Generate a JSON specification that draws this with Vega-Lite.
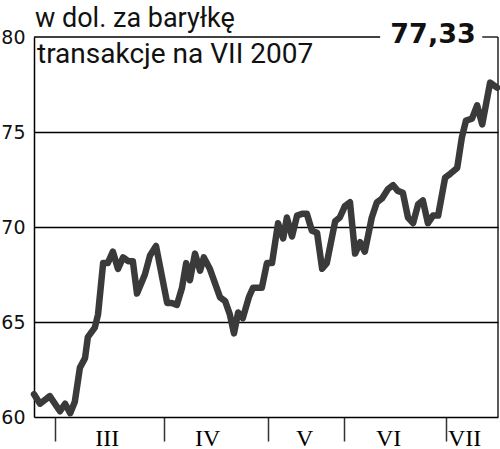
{
  "$schema": "https://vega.github.io/schema/vega-lite/v6.json",
  "width": 464,
  "height": 380,
  "autosize": {"type": "none"},
  "padding": {"left": 34, "top": 37, "right": 2, "bottom": 32},
  "background": "white",
  "config": {"view": {"stroke": null}, "font": "Roboto"},
  "layer": [
    {
      "data": {"values": [
        {"x1": 0, "x2": 74.6, "y1": 80, "y2": 80},
        {"x1": 96.6, "x2": 100, "y1": 80, "y2": 80},
        {"x1": 100, "x2": 100, "y1": 60, "y2": 80}
      ]},
      "mark": {"type": "rule", "color": "#000", "strokeWidth": 1.3},
      "encoding": {
        "x": {"field": "x1", "type": "quantitative"},
        "x2": {"field": "x2"},
        "y": {"field": "y1", "type": "quantitative"},
        "y2": {"field": "y2"}
      }
    },
    {
      "data": {"values": [
        {"t": 0, "cena": 61.2}, {"t": 1.3, "cena": 60.7}, {"t": 3.4, "cena": 61.1}, {"t": 5.6, "cena": 60.3},
        {"t": 6.7, "cena": 60.7}, {"t": 7.8, "cena": 60.2}, {"t": 8.8, "cena": 60.8}, {"t": 9.9, "cena": 62.6},
        {"t": 11.0, "cena": 63.1}, {"t": 11.6, "cena": 64.2}, {"t": 13.1, "cena": 64.7}, {"t": 13.8, "cena": 65.4},
        {"t": 14.9, "cena": 68.1}, {"t": 15.9, "cena": 68.1}, {"t": 17.0, "cena": 68.7}, {"t": 18.1, "cena": 67.8},
        {"t": 19.2, "cena": 68.4}, {"t": 20.3, "cena": 68.2}, {"t": 21.3, "cena": 68.2}, {"t": 22.2, "cena": 66.5},
        {"t": 23.9, "cena": 67.5}, {"t": 25.0, "cena": 68.5}, {"t": 26.3, "cena": 69.0}, {"t": 28.7, "cena": 66.0},
        {"t": 29.7, "cena": 66.0}, {"t": 30.8, "cena": 65.9}, {"t": 31.9, "cena": 66.8}, {"t": 32.8, "cena": 68.1},
        {"t": 33.6, "cena": 67.2}, {"t": 34.7, "cena": 68.6}, {"t": 35.8, "cena": 67.7}, {"t": 36.6, "cena": 68.4},
        {"t": 37.9, "cena": 67.8}, {"t": 40.1, "cena": 66.3}, {"t": 41.2, "cena": 66.1}, {"t": 42.2, "cena": 65.4},
        {"t": 43.1, "cena": 64.4}, {"t": 44.0, "cena": 65.5}, {"t": 45.0, "cena": 65.2}, {"t": 46.3, "cena": 66.3},
        {"t": 47.2, "cena": 66.8}, {"t": 49.1, "cena": 66.8}, {"t": 50.2, "cena": 68.1}, {"t": 51.3, "cena": 68.1},
        {"t": 52.6, "cena": 70.2}, {"t": 53.7, "cena": 69.4}, {"t": 54.5, "cena": 70.5}, {"t": 55.6, "cena": 69.5},
        {"t": 56.7, "cena": 70.6}, {"t": 57.8, "cena": 70.7}, {"t": 58.8, "cena": 70.7}, {"t": 59.9, "cena": 69.8},
        {"t": 61.0, "cena": 69.7}, {"t": 62.1, "cena": 67.8}, {"t": 63.1, "cena": 68.1}, {"t": 64.9, "cena": 70.3},
        {"t": 65.9, "cena": 70.5}, {"t": 67.0, "cena": 71.1}, {"t": 68.1, "cena": 71.3}, {"t": 69.2, "cena": 68.6},
        {"t": 70.3, "cena": 69.2}, {"t": 71.3, "cena": 68.7}, {"t": 72.8, "cena": 70.5}, {"t": 73.9, "cena": 71.3},
        {"t": 75.0, "cena": 71.5}, {"t": 76.3, "cena": 72.0}, {"t": 77.4, "cena": 72.2}, {"t": 78.4, "cena": 71.9},
        {"t": 79.5, "cena": 71.8}, {"t": 80.6, "cena": 70.5}, {"t": 81.7, "cena": 70.2}, {"t": 82.8, "cena": 71.2},
        {"t": 83.8, "cena": 71.4}, {"t": 84.9, "cena": 70.2}, {"t": 86.0, "cena": 70.6}, {"t": 87.1, "cena": 70.6},
        {"t": 88.6, "cena": 72.6}, {"t": 89.7, "cena": 72.8}, {"t": 91.2, "cena": 73.1}, {"t": 92.2, "cena": 74.7},
        {"t": 93.1, "cena": 75.6}, {"t": 94.4, "cena": 75.7}, {"t": 95.5, "cena": 76.4}, {"t": 96.6, "cena": 75.4},
        {"t": 98.3, "cena": 77.6}, {"t": 99.8, "cena": 77.33}
      ]},
      "mark": {"type": "line", "color": "#3a3a3a", "strokeWidth": 6.5, "strokeJoin": "round", "strokeCap": "round"},
      "encoding": {
        "x": {
          "field": "t", "type": "quantitative",
          "scale": {"domain": [0, 100], "nice": false, "zero": false},
          "axis": {
            "title": null, "grid": false,
            "values": [4.5, 15.7, 28, 37.3, 50.4, 58.2, 66.8, 76.3, 88.8, 92.7],
            "labelExpr": "datum.value==15.7?'III':datum.value==37.3?'IV':datum.value==58.2?'V':datum.value==76.3?'VI':datum.value==92.7?'VII':''",
            "tickOpacity": {"condition": {"test": "indexof([4.5,28,50.4,66.8,88.8], datum.value) >= 0", "value": 1}, "value": 0},
            "tickSize": 24, "tickWidth": 1.5, "tickColor": "#333",
            "domainColor": "#000", "domainWidth": 1.5,
            "labelFont": "Liberation Serif", "labelFontSize": 24, "labelColor": "#000",
            "labelPadding": -15, "labelBaseline": "top", "labelAlign": "center",
            "labelOverlap": false, "labelBound": false, "labelFlush": false
          }
        },
        "y": {
          "field": "cena", "type": "quantitative",
          "scale": {"domain": [60, 80], "nice": false, "zero": false},
          "axis": {
            "title": null, "values": [60, 65, 70, 75, 80],
            "grid": true, "gridColor": "#000", "gridWidth": 1.3,
            "gridOpacity": {"condition": {"test": "datum.value==65||datum.value==70||datum.value==75", "value": 1}, "value": 0},
            "ticks": false, "domain": true, "domainColor": "#000", "domainWidth": 1.5,
            "labelFont": "DejaVu Sans", "labelFontSize": 19, "labelColor": "#111", "labelPadding": 9,
            "labelFlush": false, "labelOverlap": false
          }
        }
      }
    },
    {
      "data": {"values": [{"label": "w dol. za baryłkę", "t": 0, "cena": 80}]},
      "mark": {"type": "text", "align": "left", "baseline": "alphabetic", "dx": 1, "dy": -10, "fontSize": 27, "font": "Roboto", "color": "#111"},
      "encoding": {
        "x": {"field": "t", "type": "quantitative"},
        "y": {"field": "cena", "type": "quantitative"},
        "text": {"field": "label"}
      }
    },
    {
      "data": {"values": [{"label": "transakcje na VII 2007", "t": 0, "cena": 80}]},
      "mark": {"type": "text", "align": "left", "baseline": "alphabetic", "dx": 3, "dy": 26, "fontSize": 28, "font": "Roboto", "color": "#111"},
      "encoding": {
        "x": {"field": "t", "type": "quantitative"},
        "y": {"field": "cena", "type": "quantitative"},
        "text": {"field": "label"}
      }
    },
    {
      "data": {"values": [{"label": "77,33", "t": 86.0, "cena": 80}]},
      "mark": {"type": "text", "align": "center", "baseline": "middle", "dy": -2, "fontSize": 27, "fontWeight": "bold", "font": "DejaVu Sans", "color": "#111"},
      "encoding": {
        "x": {"field": "t", "type": "quantitative"},
        "y": {"field": "cena", "type": "quantitative"},
        "text": {"field": "label"}
      }
    }
  ]
}
